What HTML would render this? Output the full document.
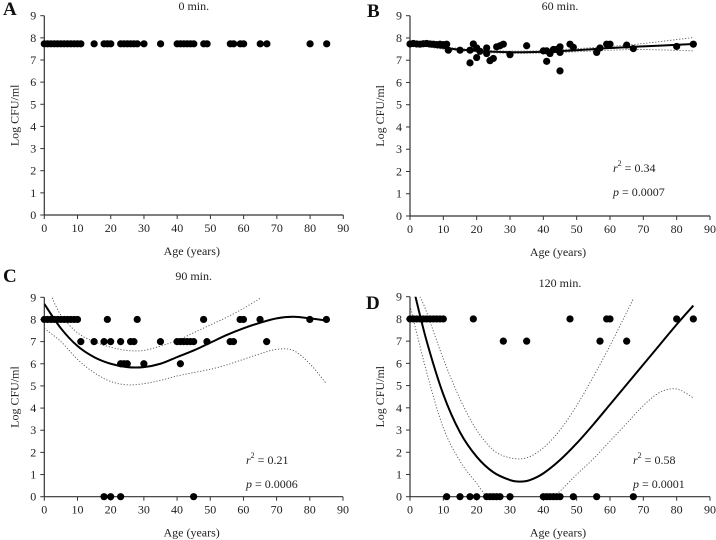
<!DOCTYPE html>
<html><head><meta charset="utf-8"><style>
body{margin:0;background:#fff}
svg{display:block}
svg text{font-family:"Liberation Serif","Times New Roman",serif}
</style></head><body>
<svg id="c" width="716" height="540"></svg>
<script>
const ages0=[0,1,2,3,4,5,6,7,8,9,10,11,15,18,19,20,23,24,25,26,27,28,30,35,40,41,42,43,44,45,48,49,56,57,59,60,65,67,80,85];
const vals0=ages0.map(()=>7.73);
const ages60=[0,1,2,3,4,5,6,7,8,9,10,11,11.5,15,18,18,19,20,20,21,23,23,24,25,26,27,28,30,35,40,41,41,42,43,44,45,45,45,48,49,56,57,59,60,65,67,80,85];
const vals60=[7.73,7.75,7.73,7.72,7.74,7.75,7.73,7.72,7.7,7.72,7.7,7.72,7.45,7.45,7.45,6.88,7.73,7.55,7.12,7.4,7.55,7.3,6.98,7.08,7.6,7.65,7.72,7.25,7.65,7.42,7.42,6.95,7.3,7.48,7.48,7.6,7.35,6.52,7.72,7.58,7.35,7.55,7.72,7.72,7.68,7.52,7.62,7.72];
const fitX60=[0,10,20,30,40,50,60,70,85];
const fit60=[7.75,7.55,7.42,7.36,7.38,7.45,7.55,7.62,7.73];
const up60=[7.78,7.6,7.47,7.41,7.43,7.52,7.62,7.75,8.02];
const lo60=[7.72,7.5,7.37,7.31,7.32,7.38,7.45,7.48,7.42];
const ages90=[0,1,2,3,4,5,6,7,8,9,10,19,28,48,59,60,65,80,85,11,15,18,20,23,26,27,35,40,41,42,43,44,45,49,56,57,67,23,24,25,30,41,18,20,23,45];
const vals90=[8,8,8,8,8,8,8,8,8,8,8,8,8,8,8,8,8,8,8,7,7,7,7,7,7,7,7,7,7,7,7,7,7,7,7,7,7,6,6,6,6,6,0,0,0,0];
const fitX90=[0,5,10,15,20,25,30,35,40,45,50,55,60,65,70,75,80,85];
const fit90=[8.7,7.6,6.8,6.3,6.0,5.85,5.85,6.0,6.3,6.6,6.95,7.3,7.6,7.85,8.05,8.12,8.05,7.95];
const upX90=[2,5,10,15,20,25,30,35,40,45,50,55,60,65];
const up90=[9.1,8.2,7.4,7.0,6.75,6.6,6.6,6.8,7.05,7.4,7.75,8.1,8.5,8.95];
const lo90=[7.6,7.0,6.2,5.6,5.2,5.05,5.1,5.25,5.45,5.6,5.75,5.95,6.2,6.45,6.65,6.6,6.0,5.1];
const ages120=[0,1,2,3,4,5,6,7,8,9,10,19,48,59,60,80,85,28,35,57,65,11,15,18,20,23,24,25,26,27,30,40,41,42,43,44,45,49,56,67];
const vals120=[8,8,8,8,8,8,8,8,8,8,8,8,8,8,8,8,8,7,7,7,7,0,0,0,0,0,0,0,0,0,0,0,0,0,0,0,0,0,0,0];
const fitX120=[1,5,10,15,20,25,30,33,36,40,45,50,55,60,65,70,75,80,85];
const fit120=[9.4,7.0,4.6,2.9,1.8,1.1,0.75,0.68,0.75,1.05,1.65,2.4,3.25,4.15,5.05,5.95,6.85,7.75,8.6];
const upX120=[3,5,10,15,20,25,30,35,40,45,50,55,60,65,67];
const up120=[9.0,8.3,6.2,4.4,3.0,2.1,1.75,1.75,2.2,3.0,4.1,5.4,6.8,8.3,8.9];
const loX120=[0,5,10,15,20,25,30,35,40,45,50,55,60,65,70,75,80,85];
const lo120=[8.6,5.6,3.1,1.6,0.6,-0.4,-0.9,-0.9,-0.4,0.25,1.0,1.7,2.5,3.3,4.1,4.7,4.85,4.45];

const NS="http://www.w3.org/2000/svg";
const svg=document.getElementById('c');
function el(t,a,p){const e=document.createElementNS(NS,t);for(const k in a)e.setAttribute(k,a[k]);(p||svg).appendChild(e);return e;}
function txt(s,x,y,a,p){const e=el('text',Object.assign({x:x,y:y,'font-size':12,fill:'#222'},a||{}),p);e.textContent=s;return e;}
function path(xs,ys,sx,sy){const P=xs.map((x,i)=>[sx(x),sy(ys[i])]);let d='M'+P[0][0]+','+P[0][1];
 for(let i=0;i<P.length-1;i++){const p0=P[Math.max(0,i-1)],p1=P[i],p2=P[i+1],p3=P[Math.min(P.length-1,i+2)];
 d+=' C'+(p1[0]+(p2[0]-p0[0])/6)+','+(p1[1]+(p2[1]-p0[1])/6)+' '+(p2[0]-(p3[0]-p1[0])/6)+','+(p2[1]-(p3[1]-p1[1])/6)+' '+p2[0]+','+p2[1];}return d;}

function panel(o){
 const g=el('g',{});
 
 
 const sx=v=>o.x0+(o.x1-o.x0)*v/90, sy=v=>o.y0-(o.y0-o.y9)*v/9;
 const cid='clip'+o.id;
 const cp=el('clipPath',{id:cid},g);el('rect',{x:o.x0,y:o.y9,width:o.x1-o.x0+6,height:o.y0-o.y9},cp);
 const xa=el('line',{x1:o.x0,y1:o.y0,x2:o.x1,y2:o.y0,stroke:'#333','stroke-width':1.2},g);
 
 const ya=el('line',{x1:o.x0,y1:o.y0,x2:o.x0,y2:o.y9,stroke:'#333','stroke-width':1.2},g);
 
 for(let v=0;v<=90;v+=10){el('line',{x1:sx(v),y1:o.y0,x2:sx(v),y2:o.y0+4,stroke:'#333'},g);
  const t=txt(String(v),sx(v),o.y0+17,{'text-anchor':'middle'},g);}
 for(let v=0;v<=9;v++){el('line',{x1:o.x0-4,y1:sy(v),x2:o.x0,y2:sy(v),stroke:'#333'},g);
  const t=txt(String(v),o.x0-8,sy(v)+4,{'text-anchor':'end'},g);}
 const xt=txt('Age (years)',(o.x0+o.x1)/2-2,o.y0+40,{'text-anchor':'middle'},g);
 const yx=o.x0-26,yy=(o.y0+o.y9)/2;
 const yt=txt('Log CFU/ml',yx,yy,{'text-anchor':'middle',transform:'rotate(-90 '+yx+' '+yy+')'},g);
 const tt=txt(o.title,(o.x0+o.x1)/2,o.ty,{'text-anchor':'middle'},g);
 const pl=txt(o.id,o.lx,o.ly,{'font-size':19,'font-weight':'bold',fill:'#111'},g);
 const cg=el('g',{'clip-path':'url(#'+cid+')'},g);
 if(o.fit){
  const f=el('path',{d:path(o.fitX,o.fit,sx,sy),fill:'none',stroke:'#000','stroke-width':2},cg);
  const u=el('path',{d:path(o.upX,o.up,sx,sy),fill:'none',stroke:'#555','stroke-width':0.9,'stroke-dasharray':'1.2,1.8'},cg);
  const l=el('path',{d:path(o.loX,o.lo,sx,sy),fill:'none',stroke:'#555','stroke-width':0.9,'stroke-dasharray':'1.2,1.8'},cg);
 }
 o.ages.forEach((a,i)=>{const c=el('circle',{cx:sx(a),cy:sy(o.vals[i]),r:3.6,fill:'#000'},g);
  });
 if(o.r2){
  const r=el('text',{x:o.ax,y:o.ay,'font-size':12,fill:'#222'},g);
  r.innerHTML='<tspan font-style="italic">r</tspan><tspan font-size="8" dy="-6">2</tspan><tspan dy="6"> = '+o.r2+'</tspan>';
  const p=el('text',{x:o.ax,y:o.ay+24,'font-size':12,fill:'#222'},g);
  p.innerHTML='<tspan font-style="italic">p</tspan> = '+o.p;
 }
}
panel({id:'A',title:'0 min.',x0:44.3,x1:343.3,y0:215,y9:15.7,lx:3,ly:15,ty:10,ages:ages0,vals:vals0});
panel({id:'B',title:'60 min.',x0:410,x1:710,y0:216,y9:15.7,lx:367,ly:17,ty:10,ages:ages60,vals:vals60,fit:1,fitX:fitX60,fit:fit60,upX:fitX60,up:up60,loX:fitX60,lo:lo60,r2:'0.34',p:'0.0007',ax:613,ay:172});
panel({id:'C',title:'90 min.',x0:44.3,x1:343,y0:496.7,y9:297.3,lx:3,ly:282,ty:280,ages:ages90,vals:vals90,fitX:fitX90,fit:fit90,upX:upX90,up:up90,loX:fitX90,lo:lo90,r2:'0.21',p:'0.0006',ax:246,ay:464});
panel({id:'D',title:'120 min.',x0:410,x1:710,y0:496.7,y9:296.7,lx:366,ly:309,ty:287,ages:ages120,vals:vals120,fitX:fitX120,fit:fit120,upX:upX120,up:up120,loX:loX120,lo:lo120,r2:'0.58',p:'0.0001',ax:633,ay:464});
</script>
</body></html>
